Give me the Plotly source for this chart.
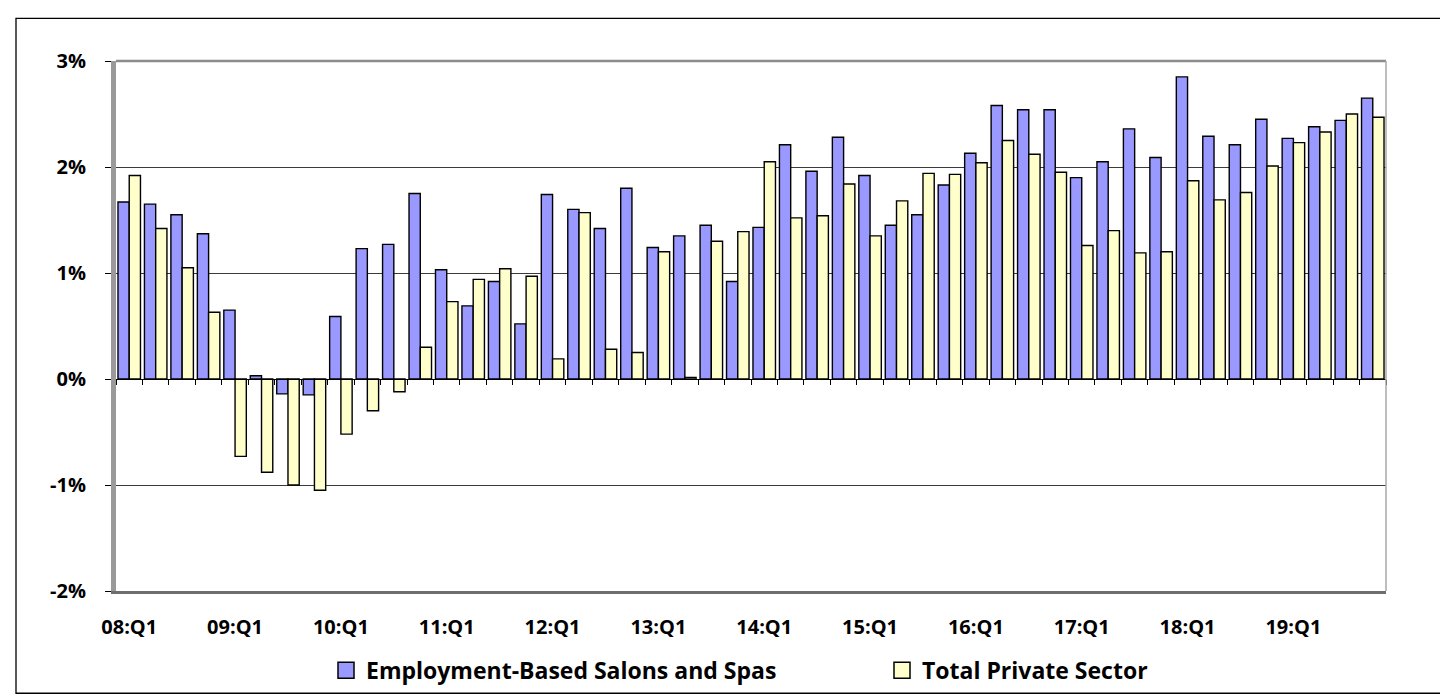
import plotly.graph_objects as go

quarters = [f"{y:02d}:Q{q}" for y in range(8, 20) for q in range(1, 5)]

salons = [1.67, 1.65, 1.55, 1.37, 0.65, 0.03, -0.14, -0.15,
          0.59, 1.23, 1.27, 1.75, 1.03, 0.69, 0.92, 0.52,
          1.74, 1.60, 1.42, 1.80, 1.24, 1.35, 1.45, 0.92,
          1.43, 2.21, 1.96, 2.28, 1.92, 1.45, 1.55, 1.83,
          2.13, 2.58, 2.54, 2.54, 1.90, 2.05, 2.36, 2.09,
          2.85, 2.29, 2.21, 2.45, 2.27, 2.38, 2.44, 2.65]

private = [1.92, 1.42, 1.05, 0.63, -0.73, -0.88, -1.00, -1.05,
           -0.52, -0.30, -0.12, 0.30, 0.73, 0.94, 1.04, 0.97,
           0.19, 1.57, 0.28, 0.25, 1.20, 0.015, 1.30, 1.39,
           2.05, 1.52, 1.54, 1.84, 1.35, 1.68, 1.94, 1.93,
           2.04, 2.25, 2.12, 1.95, 1.26, 1.40, 1.19, 1.20,
           1.87, 1.69, 1.76, 2.01, 2.23, 2.33, 2.50, 2.47]

series_names = ["Employment-Based Salons and Spas", "Total Private Sector"]
series_colors = ["#9999FF", "#FFFFCC"]

label_quarters = [q for q in quarters if q.endswith("Q1")]
y_ticks = [-2, -1, 0, 1, 2, 3]

idx = list(range(len(quarters)))
label_idx = [quarters.index(q) for q in label_quarters]
boundaries = [i - 0.5 for i in range(len(quarters) + 1)]

FONT = "'Open Sans', 'Noto Sans', sans-serif"

W, H = 1448, 696
L, R, T, B = 108, 70, 53, 109
PW, PH = W - L - R, H - T - B

fig = go.Figure()
for name, vals, col in zip(series_names, [salons, private], series_colors):
    fig.add_trace(go.Bar(
        x=idx, y=vals, name=name, showlegend=False,
        marker=dict(color=col, line=dict(color="#000000", width=1.4)),
    ))
# legend entries (larger square swatches, as in the original)
for i, (name, col) in enumerate(zip(series_names, series_colors)):
    fig.add_trace(go.Scatter(
        x=[None], y=[None], mode="markers", name=name,
        legend="legend" if i == 0 else "legend2",
        marker=dict(symbol="square", size=16, color=col,
                    line=dict(color="#000000", width=1.5)),
    ))
# invisible helper trace so the zero-line axis (x2) is drawn
fig.add_trace(go.Scatter(x=[idx[0], idx[-1]], y=[0, 0], xaxis="x2", mode="lines",
                         line=dict(width=0), showlegend=False, hoverinfo="skip"))

xr = [-0.5, len(quarters) - 0.5]
yr = [-2, 3]
zero_frac = (0 - yr[0]) / (yr[1] - yr[0])


def px_x(p):
    return (p - L) / PW


def px_y(p):
    return (H - B - p) / PH


fig.update_layout(
    width=W, height=H,
    margin=dict(l=L, r=R, t=T, b=B),
    paper_bgcolor="white", plot_bgcolor="white",
    barmode="group", bargap=0.15, bargroupgap=0.0,
    font=dict(family=FONT, color="#000000"),
    xaxis=dict(
        range=xr, tickmode="array", tickvals=label_idx, ticktext=label_quarters,
        ticks="outside", ticklen=16, tickcolor="rgba(0,0,0,0)",
        tickfont=dict(family=FONT, size=20, weight="bold"),
        showgrid=False, zeroline=False,
        showline=True, linecolor="#6E6E6E", linewidth=3,
    ),
    xaxis2=dict(
        range=xr, overlaying="x", anchor="free", position=zero_frac,
        tickmode="array", tickvals=boundaries, ticks="outside", ticklen=5,
        tickcolor="#000000", tickwidth=1.3, showticklabels=False,
        showgrid=False, zeroline=False,
        showline=True, linecolor="#000000", linewidth=1.3,
    ),
    yaxis=dict(
        range=yr, tickmode="array", tickvals=y_ticks,
        ticktext=[f"{v}%" for v in y_ticks],
        ticks="outside", ticklen=6, tickcolor="#000000", tickwidth=1.3,
        ticklabelstandoff=15,
        tickfont=dict(family=FONT, size=20, weight="bold"),
        showgrid=True, gridcolor="#3A3A3A", gridwidth=1.2,
        zeroline=False,
        showline=True, linecolor="#9A9A9A", linewidth=5,
    ),
    legend=dict(
        orientation="h", x=px_x(318), xanchor="left", y=px_y(667), yanchor="middle",
        font=dict(family=FONT, size=23, weight="bold"),
        bgcolor="rgba(0,0,0,0)", itemsizing="trace",
    ),
    legend2=dict(
        orientation="h", x=px_x(874), xanchor="left", y=px_y(667), yanchor="middle",
        font=dict(family=FONT, size=23, weight="bold"),
        bgcolor="rgba(0,0,0,0)", itemsizing="trace",
    ),
    shapes=[
        # top and right plot-area borders
        dict(type="line", xref="paper", yref="paper", x0=0, x1=1, y0=1, y1=1,
             line=dict(color="#8C8C8C", width=2.5)),
        dict(type="line", xref="paper", yref="paper", x0=1, x1=1, y0=0, y1=1,
             line=dict(color="#A8A8A8", width=1.5)),
        # outer chart border
        dict(type="rect", xref="paper", yref="paper",
             x0=px_x(8), x1=px_x(1444), y0=px_y(690), y1=px_y(10),
             line=dict(color="#000000", width=1.3), layer="below"),
    ],
)

fig.write_html("out.html")
